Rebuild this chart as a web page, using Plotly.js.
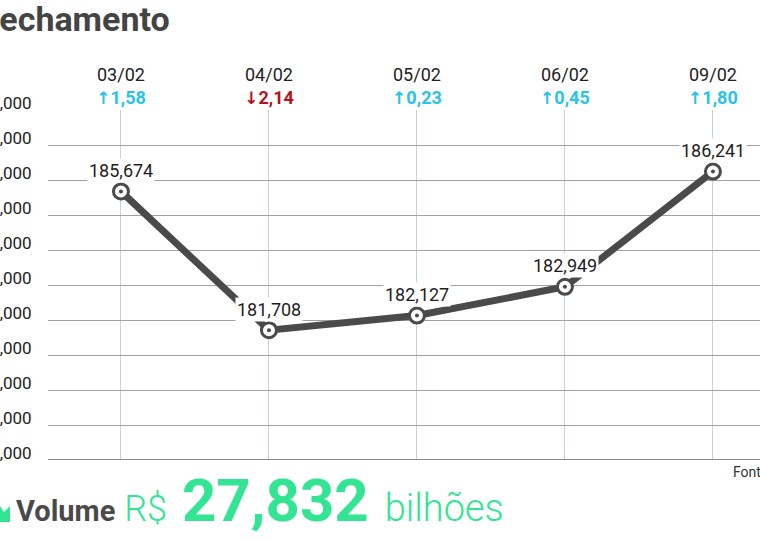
<!DOCTYPE html>
<html>
<head>
<meta charset="utf-8">
<script src="https://cdn.plot.ly/plotly-3.0.1.min.js"></script>
<style>html,body{margin:0;padding:0;background:#fff;}#chart{width:760px;height:541px;}</style>
</head>
<body>
<div id="chart"></div>
<script>
// ---- data ----
const dates = ["03/02", "04/02", "05/02", "06/02", "09/02"];
const closes = [185674, 181708, 182127, 182949, 186241];
const changes = [1.58, -2.14, 0.23, 0.45, 1.80];
const yTicks = [178000, 179000, 180000, 181000, 182000, 183000, 184000, 185000, 186000, 187000, 188000];
const titleText = "Fechamento";
const volumeLabel = "Volume";
const volumeValue = "27,832";
const sourceText = "Fonte: B3";

// ---- style ----
const UP = "#27c3e8", DOWN = "#b3131c", GREEN = "#33e592", DARK = "#4a4a4a";
const L = 48, T = 110, B = 81, W = 760, H = 541;
const PW = W - L, PH = H - T - B;
const px = x => (x - L) / PW;
const py = y => (H - B - y) / PH;

const fmtThousands = v => v.toLocaleString("en-US");
const fmtChange = v => Math.abs(v).toFixed(2).replace(".", ",");

const tickText = dates.map((d, i) => {
  const c = changes[i];
  const col = c >= 0 ? UP : DOWN;
  const arr = c >= 0 ? "↑" : "↓";
  return d + "<br><b><span style='color:" + col + ";font-family:DejaVu Sans;font-size:17px'>" + arr +
         "</span><span style='color:" + col + "'>" + fmtChange(c) + "</span></b>";
});

const traces = [
  {
    x: dates, y: closes, type: "scatter", mode: "lines+markers",
    line: {color: DARK, width: 7},
    marker: {size: 15, color: "#ffffff", line: {color: DARK, width: 3}},
    hoverinfo: "none"
  },
  {
    x: dates, y: closes, type: "scatter", mode: "markers",
    marker: {size: 4, color: DARK},
    hoverinfo: "none"
  }
];

const annotations = dates.map((d, i) => ({
  x: d, y: closes[i], xref: "x", yref: "y",
  text: fmtThousands(closes[i]), showarrow: false,
  yshift: 21, xanchor: "center", yanchor: "middle",
  bgcolor: "#ffffff", borderpad: 1,
  font: {family: "Roboto", size: 18, color: "#1e1e1e"}
}));

// y-axis labels sit just above their gridlines
yTicks.forEach(v => annotations.push({
  xref: "paper", yref: "y", x: 0, y: v,
  text: fmtThousands(v), showarrow: false,
  xanchor: "right", yanchor: "middle", xshift: -14, yshift: 7,
  font: {family: "Roboto", size: 17, color: "#222222"}
}));

annotations.push({
  xref: "paper", yref: "paper", x: px(-21), y: py(19),
  xanchor: "left", yanchor: "middle", showarrow: false,
  text: "<b>" + titleText + "</b>",
  font: {family: "Roboto", size: 34, color: "#444444"}
});
annotations.push({
  xref: "paper", yref: "paper", x: px(731), y: py(472),
  xanchor: "left", yanchor: "middle", showarrow: false,
  text: sourceText,
  font: {family: "Roboto", size: 14, color: "#333333"}
});
annotations.push({
  xref: "paper", yref: "paper", x: px(14), y: py(499),
  xanchor: "left", yanchor: "middle", showarrow: false,
  text: "<b><span style='color:" + DARK + ";font-size:29px'>" + volumeLabel + "</span></b>" +
        "<span style='font-size:36px;font-weight:300'> R$</span>" +
        "<span style='font-size:60px'> </span>" +
        "<b><span style='font-size:60px'>" + volumeValue + "</span></b>" +
        "<span style='font-size:64px'> </span>" +
        "<span style='font-size:38px;font-weight:300'>bilhões</span>",
  font: {family: "Roboto", size: 36, color: GREEN}
});

const layout = {
  width: W, height: H,
  margin: {l: L, r: 0, t: T, b: B, pad: 0},
  paper_bgcolor: "#ffffff", plot_bgcolor: "#ffffff",
  showlegend: false,
  xaxis: {
    type: "category", side: "top",
    range: [-0.493, 4.318],
    tickvals: dates, ticktext: tickText,
    showgrid: true, gridcolor: "#c2d4d4", gridwidth: 1,
    showline: false, zeroline: false, ticks: "",
    ticklabelstandoff: 1,
    tickfont: {family: "Roboto", size: 18, color: "#222222"},
    automargin: false, fixedrange: true
  },
  yaxis: {
    range: [178000, 188000],
    tickvals: yTicks,
    showticklabels: false,
    showgrid: true, gridcolor: "#a0a0a0", gridwidth: 1,
    showline: false, zeroline: false, ticks: "",
    automargin: false, fixedrange: true
  },
  shapes: [
    {type: "line", xref: "paper", yref: "y", x0: 0, x1: 1, y0: 178000, y1: 178000,
     line: {color: "#8a8a8a", width: 2}},
    {type: "path", xref: "paper", yref: "paper",
     path: "M " + px(-4) + " " + py(522) + " L " + px(10) + " " + py(522) + " L " + px(10) + " " + py(506) +
           " L " + px(4) + " " + py(512) + " L " + px(0) + " " + py(506) + " L " + px(-4) + " " + py(510) + " Z",
     fillcolor: GREEN, line: {width: 0}}
  ],
  annotations: annotations
};

Plotly.newPlot("chart", traces, layout, {displayModeBar: false, staticPlot: true});
</script>
</body>
</html>
